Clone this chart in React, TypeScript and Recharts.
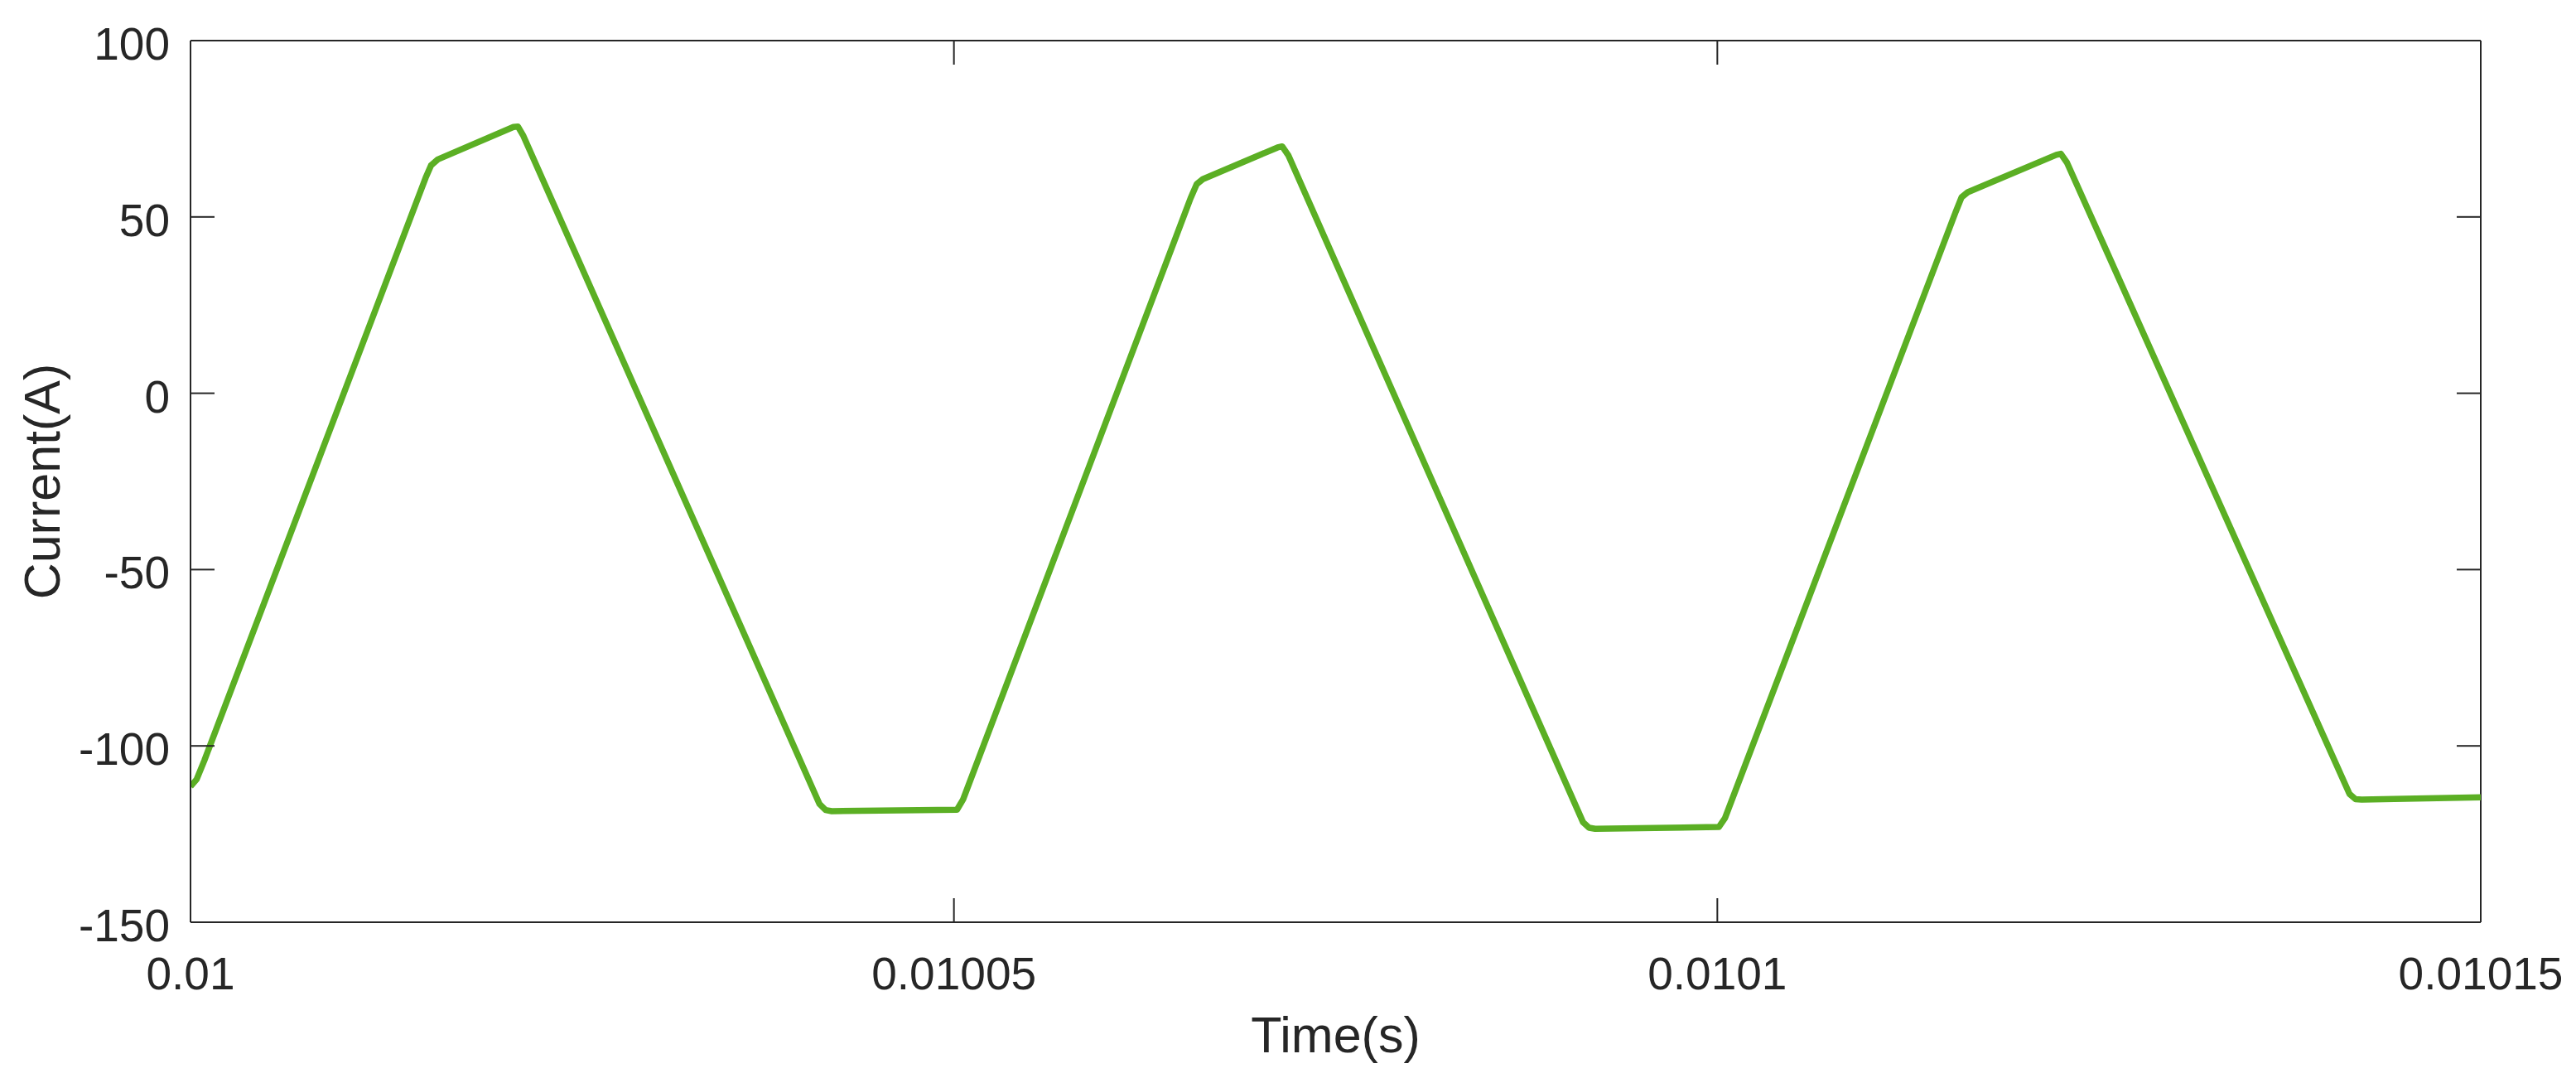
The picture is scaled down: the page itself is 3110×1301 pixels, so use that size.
import React from 'react';
import { LineChart, Line, XAxis, YAxis, ReferenceLine } from 'recharts';

// time offsets from 0.01 s, in microseconds, and the current read at each one
const TIME_US = [
  0, 0.4, 0.9, 15.4, 15.75, 16.2, 21.15, 21.45, 21.8, 41.2, 41.6, 42.0,
  50.2, 50.6, 65.5, 65.9, 66.3, 71.2, 71.5, 71.9, 91.2, 91.6, 92.0,
  100.1, 100.5, 115.6, 116.0, 116.4, 122.2, 122.5, 122.9, 141.4, 141.8, 142.2, 150,
];
const CURRENT_A = [
  -111.5, -109.5, -104.2, 61.1, 64.6, 66.3, 75.5, 75.6, 73.0, -116.5, -118.2, -118.5,
  -118.1, -115.2, 55.3, 59.3, 60.7, 69.7, 70.0, 67.5, -121.6, -123.2, -123.5,
  -123.0, -120.5, 51.3, 55.6, 57.0, 67.6, 67.9, 65.4, -113.6, -115.1, -115.2, -114.6,
];

const X_TICKS = [0.01, 0.01005, 0.0101, 0.01015];
const X_TICK_LABELS = ['0.01', '0.01005', '0.0101', '0.01015'];
const Y_TICKS = [-150, -100, -50, 0, 50, 100];

const data = TIME_US.map((us, i) => ({ t: 0.01 + us * 1e-6, current: CURRENT_A[i] }));

const W = 3110;
const H = 1301;
const PLOT_W = 2765;
const PLOT_H = 1064;
const TICK_LEN = 29;
const AXIS = '#262626';
const FONT = '"Liberation Sans", Arial, Helvetica, sans-serif';

const XTick = (props: any) => {
  const { x, y, index } = props;
  return (
    <g>
      <line x1={x} y1={y} x2={x} y2={y - TICK_LEN} stroke={AXIS} strokeWidth={2} />
      <line x1={x} y1={y - PLOT_H} x2={x} y2={y - PLOT_H + TICK_LEN} stroke={AXIS} strokeWidth={2} />
      <text x={x} y={y + 81} textAnchor="middle" fontSize={55} fontFamily={FONT} fill={AXIS}>
        {X_TICK_LABELS[index]}
      </text>
    </g>
  );
};

const YTick = (props: any) => {
  const { x, y, payload } = props;
  return (
    <g>
      <line x1={x} y1={y} x2={x + TICK_LEN} y2={y} stroke={AXIS} strokeWidth={2} />
      <line x1={x + PLOT_W} y1={y} x2={x + PLOT_W - TICK_LEN} y2={y} stroke={AXIS} strokeWidth={2} />
      <text x={x - 25} y={y + 23} textAnchor="end" fontSize={55} fontFamily={FONT} fill={AXIS}>
        {payload.value}
      </text>
    </g>
  );
};

const App: React.FC = () => {
  return (
    <div style={{ position: 'absolute', left: 0, top: 0, width: W, height: H, background: '#fff' }}>
      <LineChart width={W} height={H} data={data} margin={{ top: 49, right: 115, bottom: 0, left: 0 }}>
        <XAxis
          dataKey="t"
          type="number"
          domain={[0.01, 0.01015]}
          allowDataOverflow
          ticks={X_TICKS}
          interval={0}
          tickSize={0}
          tickMargin={0}
          tickLine={false}
          tick={<XTick />}
          height={188}
          axisLine={{ stroke: AXIS, strokeWidth: 2 }}
          label={{
            content: () => (
              <text x={230 + PLOT_W / 2} y={1270} textAnchor="middle" fontSize={61} fontFamily={FONT} fill={AXIS}>
                Time(s)
              </text>
            ),
          }}
        />
        <YAxis
          type="number"
          domain={[-150, 100]}
          allowDataOverflow
          ticks={Y_TICKS}
          interval={0}
          tickSize={0}
          tickMargin={0}
          tickLine={false}
          tick={<YTick />}
          width={230}
          axisLine={{ stroke: AXIS, strokeWidth: 2 }}
          label={{
            content: () => (
              <text
                x={72}
                y={49 + PLOT_H / 2}
                transform={`rotate(-90, 72, ${49 + PLOT_H / 2})`}
                textAnchor="middle"
                fontSize={61}
                fontFamily={FONT}
                fill={AXIS}
              >
                Current(A)
              </text>
            ),
          }}
        />
        <ReferenceLine y={100} stroke={AXIS} strokeWidth={2} />
        <ReferenceLine x={0.01015} stroke={AXIS} strokeWidth={2} />
        <Line
          type="linear"
          dataKey="current"
          stroke="#5BAF24"
          strokeWidth={7.5}
          strokeLinejoin="round"
          dot={false}
          activeDot={false}
          isAnimationActive={false}
        />
      </LineChart>
    </div>
  );
};

export default App;
